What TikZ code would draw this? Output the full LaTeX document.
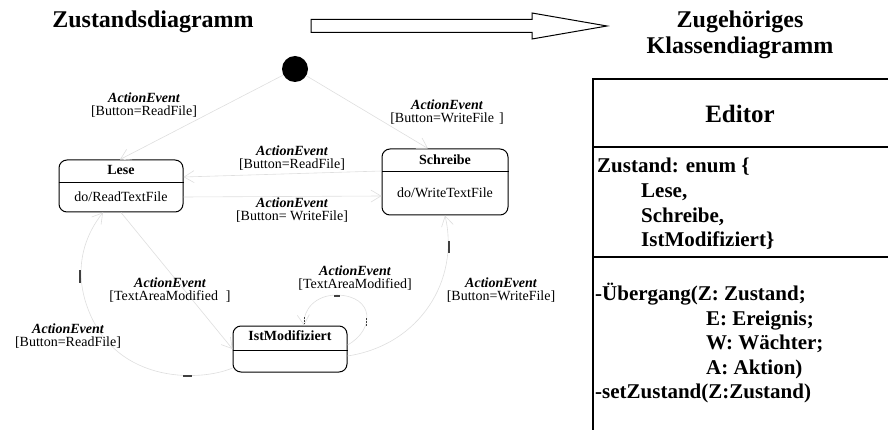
\documentclass[tikz,border=0pt]{standalone}
\usepackage{fontspec}
\setmainfont{Liberation Serif}
\usetikzlibrary{arrows.meta,calc}
\begin{document}
\begin{tikzpicture}[x=1pt,y=-1pt,
  statebox/.style={draw=black,line width=1pt,rounded corners=8pt,inner sep=0pt},
  sname/.style={font=\fontsize{14}{14}\selectfont\bfseries,inner sep=0pt},
  sact/.style={font=\fontsize{14}{14}\selectfont,inner sep=0pt},
  trans/.style={draw=black!13,line width=0.6pt,-{Straight Barb[length=10pt,width=12pt,line width=0.6pt]}},
  tlabel/.style={align=center,font=\fontsize{14}{13}\selectfont,inner sep=0pt},
  ev/.style={font=\bfseries\itshape},
  tick/.style={draw=black!75,line width=1.2pt},
  title/.style={font=\fontsize{24}{26}\selectfont\bfseries,inner sep=0pt,anchor=base},
  classline/.style={line width=1.2pt},
  classtxt/.style={font=\fontsize{21}{24}\selectfont\bfseries,anchor=base west,inner sep=0pt},
]
\useasboundingbox (0,0) rectangle (888,430);

% headings and the transition arrow between the two diagrams
\node[title] (t1) at (153,28) {Zustandsdiagramm};
\node[title] (t2) at (740,28) {Zugehöriges};
\node[title] (t3) at (740,54) {Klassendiagramm};
\draw[line width=1pt] (311,19.5) -- (532,19.5) -- (532,13) -- (607,26) -- (532,39) -- (532,32.5) -- (311,32.5) -- cycle;

% states
\node[circle,fill=black,minimum size=26pt,inner sep=0pt] (init) at (295,69) {};
\node[statebox,minimum width=124pt,minimum height=52pt] (lese) at (121,186) {};
\node[statebox,minimum width=126pt,minimum height=66pt] (schreibe) at (445,182) {};
\node[statebox,minimum width=114pt,minimum height=46pt] (ist) at (290,349) {};
\draw[line width=1pt] ([yshift=3pt]lese.west) -- ([yshift=3pt]lese.east);
\draw[line width=1pt] ([yshift=10pt]schreibe.west) -- ([yshift=10pt]schreibe.east);
\draw[line width=1pt] ([yshift=-1pt]ist.west) -- ([yshift=-1pt]ist.east);
\node[sname] (leseT) at (121,170) {Lese};
\node[sact] (leseA) at (121,197) {do/ReadTextFile};
\node[sname] (schreibeT) at (445,160) {Schreibe};
\node[sact] (schreibeA) at (445,193) {do/WriteTextFile};
\node[sname] (istT) at (290,336) {IstModifiziert};

% transitions
\draw[trans] (init) -- ([xshift=-1pt]lese.north);
\draw[trans] (init) -- ([xshift=-17pt]schreibe.north);
\draw[trans] ([yshift=11pt]schreibe.west) -- ([yshift=9pt]lese.east);
\draw[trans] ([yshift=-11pt]lese.east) -- ([yshift=-14pt]schreibe.west);
\draw[trans] (lese.south) -- (ist.west);
\draw[trans] ([yshift=-19pt]ist.west) .. controls (200,382) and (110,385) .. (85,300)
  .. controls (75,265) and (85,235) .. ([xshift=-18pt]lese.south);
\draw[trans] ([yshift=4pt]ist.east) .. controls (375,330) and (375,296) .. (337,295)
  .. controls (315,295) and (303,310) .. ([xshift=14pt]ist.north);
\draw[trans] ([yshift=-7pt]ist.east) .. controls (420,345) and (460,280) .. (schreibe.south);

% small marks on the transition lines
\draw[tick] (80,270) -- (80,283);
\draw[tick] (183,376) -- (192,376);
\draw[tick] (449,241) -- (449,253);
\draw[tick] (334,296) -- (340,296);
\draw[tick,line width=0.8pt,dash pattern=on 1.5pt off 1.5pt] (304,317) -- (304,324);
\draw[tick,line width=0.8pt,dash pattern=on 1.5pt off 1.5pt] (366,318) -- (366,327);

% transition labels
\node[tlabel] (l1) at (144,105.5) {{\bfseries\itshape ActionEvent}\\{}[Button=ReadFile]};
\node[tlabel] (l2) at (447,112.5) {{\bfseries\itshape ActionEvent}\\{}[Button=WriteFile\hspace{5pt}]};
\node[tlabel] (l3) at (292,158) {{\bfseries\itshape ActionEvent}\\{}[Button=ReadFile]};
\node[tlabel] (l4) at (292,210) {{\bfseries\itshape ActionEvent}\\{}[Button=\ WriteFile]};
\node[tlabel] (l5) at (170,290.5) {{\bfseries\itshape ActionEvent}\\{}[TextAreaModified\hspace{8pt}]};
\node[tlabel] (l6) at (355,278.5) {{\bfseries\itshape ActionEvent}\\{}[TextAreaModified]};
\node[tlabel] (l7) at (501,290.5) {{\bfseries\itshape ActionEvent}\\{}[Button=WriteFile]};
\node[tlabel] (l8) at (68,336.5) {{\bfseries\itshape ActionEvent}\\{}[Button=ReadFile]};

% class box
\draw[classline] (888,79) -- (593,79) -- (593,430);
\draw[classline] (593,147) -- (888,147);
\draw[classline] (593,257) -- (888,257);
\node[font=\fontsize{25}{26}\selectfont\bfseries,anchor=base,inner sep=0pt] (cname) at (740,123) {Editor};
\node[classtxt] (a1) at (597,173) {Zustand: enum \{};
\node[classtxt] (a2) at (641,198) {Lese,};
\node[classtxt] (a3) at (641,223) {Schreibe,};
\node[classtxt] (a4) at (641,247) {IstModifiziert\}};
\node[classtxt] (m1) at (595,300) {-Übergang(Z: Zustand;};
\node[classtxt] (m2) at (706,325) {E: Ereignis;};
\node[classtxt] (m3) at (706,349) {W: Wächter;};
\node[classtxt] (m4) at (706,374) {A: Aktion)};
\node[classtxt] (m5) at (595,398) {-setZustand(Z:Zustand)};
\end{tikzpicture}
\end{document}
